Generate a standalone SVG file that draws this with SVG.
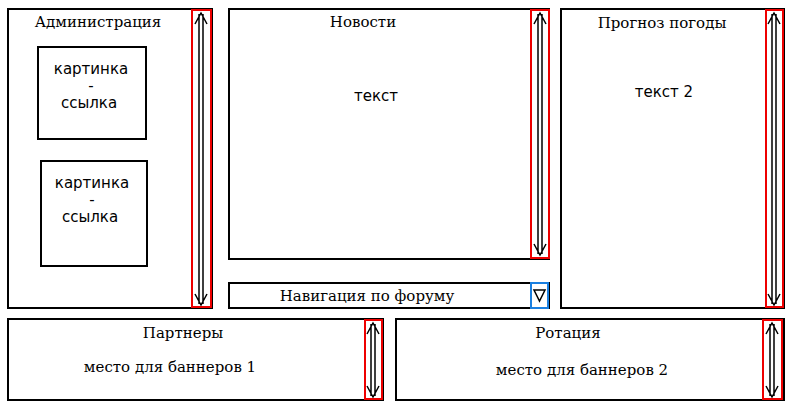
<svg xmlns="http://www.w3.org/2000/svg" width="792" height="414" viewBox="0 0 792 414">
<style>
.b{fill:none;stroke:#000;stroke-width:2}
.r{fill:none;stroke:#e00;stroke-width:2}
.a{fill:none;stroke:#000;stroke-width:1.5}
.t{font-family:"DejaVu Serif",serif;font-size:15px;text-anchor:middle}
.s{font-family:"DejaVu Sans",sans-serif;font-size:15px;text-anchor:middle}
</style>
<rect width="792" height="414" fill="#fff"/>
<g id="admin">
<rect class="b" x="8" y="9" width="204" height="299"/>
<text class="t" x="98" y="27">Администрация</text>
<rect class="b" x="38" y="47" width="108" height="92"/>
<text class="s" x="91" y="74">картинка</text><text class="s" x="91" y="91">-</text><text class="s" x="89" y="108">ссылка</text>
<rect class="b" x="41" y="161" width="106" height="105"/>
<text class="s" x="92" y="188">картинка</text><text class="s" x="92" y="205">-</text><text class="s" x="90" y="222">ссылка</text>
</g>
<g id="news">
<rect class="b" x="229" y="9" width="320" height="250"/>
<text class="t" x="363" y="27">Новости</text>
<text class="s" x="376" y="101">текст</text>
</g>
<g id="weather">
<rect class="b" x="561" y="9" width="223" height="299"/>
<text class="t" x="662" y="28">Прогноз погоды</text>
<text class="s" x="664" y="97">текст 2</text>
</g>
<g id="nav">
<rect class="b" x="229" y="283" width="320" height="25"/>
<text class="t" x="367" y="301">Навигация по форуму</text>
<rect fill="#fff" stroke="#1a7fe0" stroke-width="2" x="531" y="283" width="17" height="25"/>
<path class="a" d="M534 290 L545 290 L539.5 301 Z"/>
</g>
<g id="partners">
<rect class="b" x="8" y="319" width="375" height="81"/>
<text class="t" x="183" y="338">Партнеры</text>
<text class="t" x="170" y="372">место для баннеров 1</text>
</g>
<g id="rotation">
<rect class="b" x="396" y="319" width="388" height="81"/>
<text class="t" x="568" y="338">Ротация</text>
<text class="t" x="582" y="375">место для баннеров 2</text>
</g>
<g id="connectors">
<g>
<rect class="r" x="192" y="10" width="19" height="297"/>
<path class="a" d="M199 14V304M203 14V304M195 24L201 13L207 24M195 294L201 305L207 294"/>
</g>
<g>
<rect class="r" x="531" y="10" width="18" height="248"/>
<path class="a" d="M538 14V254M542 14V254M534 24L540 13L546 24M534 244L540 255L546 244"/>
</g>
<g>
<rect class="r" x="766" y="10" width="17" height="297"/>
<path class="a" d="M772 14V304M776 14V304M768 24L774 13L780 24M768 294L774 305L780 294"/>
</g>
<g>
<rect class="r" x="365" y="320" width="17" height="79"/>
<path class="a" d="M371 324V396M375 324V396M367 334L373 323L379 334M367 386L373 397L379 386"/>
</g>
<g>
<rect class="r" x="763" y="320" width="19" height="79"/>
<path class="a" d="M770 324V396M774 324V396M766 334L772 323L778 334M766 386L772 397L778 386"/>
</g>
</g>
</svg>
